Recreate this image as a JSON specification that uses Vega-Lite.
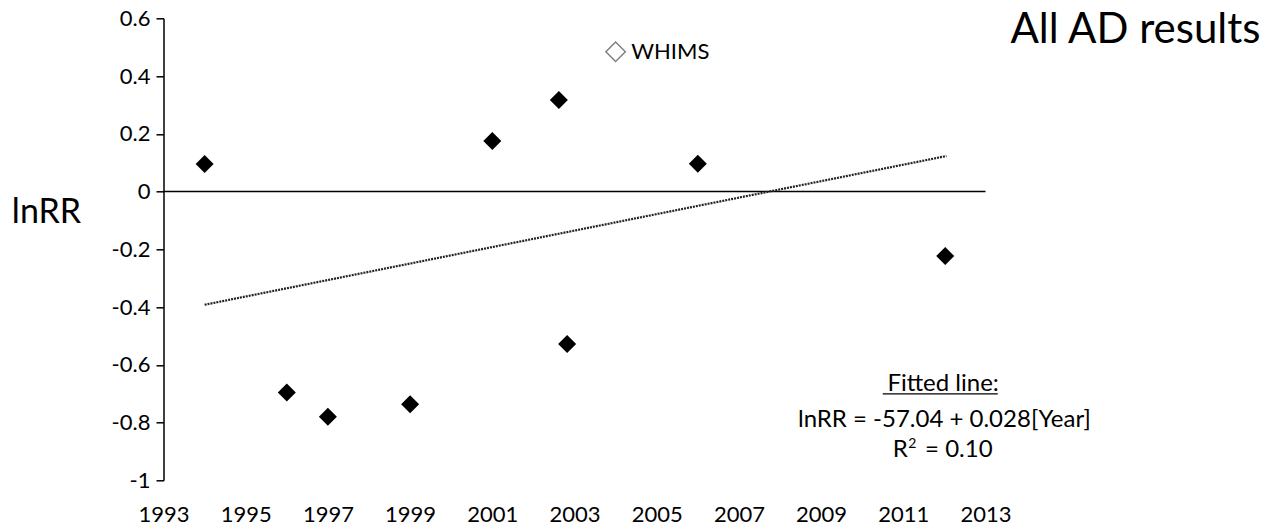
{
  "$schema": "https://vega.github.io/schema/vega-lite/v6.json",
  "width": 822,
  "height": 462,
  "autosize": "none",
  "padding": {"left": 163.5, "top": 18.3, "right": 286.5, "bottom": 50.7},
  "background": "white",
  "config": {
    "view": {"stroke": null},
    "font": "Lato",
    "text": {"color": "black", "font": "Lato"}
  },
  "datasets": {
    "studies": [
      {"study": "A", "year": 1994.0, "lnRR": 0.095},
      {"study": "B", "year": 1996.0, "lnRR": -0.696},
      {"study": "C", "year": 1997.0, "lnRR": -0.780},
      {"study": "D", "year": 1999.0, "lnRR": -0.737},
      {"study": "E", "year": 2001.0, "lnRR": 0.175},
      {"study": "F", "year": 2002.62, "lnRR": 0.317},
      {"study": "G", "year": 2002.82, "lnRR": -0.528},
      {"study": "H", "year": 2006.0, "lnRR": 0.096},
      {"study": "I", "year": 2012.02, "lnRR": -0.223},
      {"study": "WHIMS", "year": 2004.0, "lnRR": 0.484}
    ],
    "fit": [
      {"year": 1994.0, "lnRR": -0.392},
      {"year": 2012.05, "lnRR": 0.123}
    ]
  },
  "layer": [
    {
      "data": {"name": "studies"},
      "transform": [{"filter": "datum.study !== 'WHIMS'"}],
      "mark": {"type": "point", "shape": "diamond", "filled": true, "size": 324, "color": "black", "opacity": 1},
      "encoding": {
        "x": {
          "field": "year",
          "type": "quantitative",
          "scale": {"domain": [1993, 2013], "nice": false, "zero": false},
          "axis": {
            "values": [1993, 1995, 1997, 1999, 2001, 2003, 2005, 2007, 2009, 2011, 2013],
            "format": "d",
            "title": null,
            "domain": false,
            "ticks": false,
            "tickSize": 0,
            "grid": false,
            "labelFlush": false,
            "labelOverlap": false,
            "labelPadding": 24,
            "labelFont": "Lato",
            "labelFontSize": 22,
            "labelColor": "black"
          }
        },
        "y": {
          "field": "lnRR",
          "type": "quantitative",
          "scale": {"domain": [-1, 0.6], "nice": false, "zero": false},
          "axis": {
            "values": [-1, -0.8, -0.6, -0.4, -0.2, 0, 0.2, 0.4, 0.6],
            "format": ".1~f",
            "labelExpr": "replace(datum.label, '−', '-')",
            "grid": false,
            "labelFlush": false,
            "labelOverlap": false,
            "domainColor": "black",
            "domainWidth": 1.5,
            "tickColor": "black",
            "tickWidth": 1.5,
            "tickSize": 7.5,
            "labelPadding": 6,
            "labelFont": "Lato",
            "labelFontSize": 22,
            "labelColor": "black",
            "title": "lnRR",
            "titleAngle": 0,
            "titleFont": "Lato",
            "titleFontSize": 34,
            "titleFontWeight": "normal",
            "titleColor": "black",
            "titleAlign": "center",
            "titleBaseline": "alphabetic",
            "titleX": -117.5,
            "titleY": 204.4
          }
        }
      }
    },
    {
      "data": {"values": [{}]},
      "mark": {"type": "rule", "color": "black", "strokeWidth": 1.5},
      "encoding": {"y": {"datum": 0, "type": "quantitative"}}
    },
    {
      "data": {"name": "fit"},
      "mark": {"type": "line", "color": "#222222", "strokeWidth": 2.2, "strokeDash": [2, 1]},
      "encoding": {
        "x": {"field": "year", "type": "quantitative"},
        "y": {"field": "lnRR", "type": "quantitative"}
      }
    },
    {
      "data": {"name": "studies"},
      "transform": [{"filter": "datum.study === 'WHIMS'"}],
      "mark": {"type": "point", "shape": "diamond", "filled": false, "size": 380, "stroke": "#808080", "strokeWidth": 1.5, "opacity": 1},
      "encoding": {
        "x": {"field": "year", "type": "quantitative"},
        "y": {"field": "lnRR", "type": "quantitative"}
      }
    },
    {
      "data": {"values": [{"label": "WHIMS"}]},
      "mark": {"type": "text", "align": "left", "baseline": "middle", "fontSize": 22},
      "encoding": {
        "x": {"datum": 2004.38, "type": "quantitative"},
        "y": {"datum": 0.484, "type": "quantitative"},
        "text": {"field": "label"}
      }
    },
    {
      "data": {"values": [{"label": "All AD results"}]},
      "mark": {"type": "text", "align": "center", "baseline": "alphabetic", "fontSize": 42},
      "encoding": {
        "x": {"datum": 2016.65, "type": "quantitative"},
        "y": {"datum": 0.5134, "type": "quantitative"},
        "text": {"field": "label"}
      }
    },
    {
      "data": {"values": [{"label": "Fitted line:"}]},
      "mark": {"type": "text", "align": "center", "baseline": "alphabetic", "fontSize": 24},
      "encoding": {
        "x": {"datum": 2011.97, "type": "quantitative"},
        "y": {"datum": -0.69, "type": "quantitative"},
        "text": {"field": "label"}
      }
    },
    {
      "data": {"values": [{}]},
      "mark": {"type": "rule", "color": "black", "strokeWidth": 1.2},
      "encoding": {
        "x": {"datum": 2010.5, "type": "quantitative"},
        "x2": {"datum": 2013.3},
        "y": {"datum": -0.701, "type": "quantitative"}
      }
    },
    {
      "data": {"values": [{"label": "lnRR = -57.04 + 0.028[Year]"}]},
      "mark": {"type": "text", "align": "center", "baseline": "alphabetic", "fontSize": 24},
      "encoding": {
        "x": {"datum": 2012.0, "type": "quantitative"},
        "y": {"datum": -0.8145, "type": "quantitative"},
        "text": {"field": "label"}
      }
    },
    {
      "data": {"values": [{"label": "R"}]},
      "mark": {"type": "text", "align": "left", "baseline": "alphabetic", "fontSize": 24},
      "encoding": {
        "x": {"datum": 2010.745, "type": "quantitative"},
        "y": {"datum": -0.92, "type": "quantitative"},
        "text": {"field": "label"}
      }
    },
    {
      "data": {"values": [{"label": "2"}]},
      "mark": {"type": "text", "align": "center", "baseline": "alphabetic", "fontSize": 14},
      "encoding": {
        "x": {"datum": 2011.22, "type": "quantitative"},
        "y": {"datum": -0.888, "type": "quantitative"},
        "text": {"field": "label"}
      }
    },
    {
      "data": {"values": [{"label": "= 0.10"}]},
      "mark": {"type": "text", "align": "left", "baseline": "alphabetic", "fontSize": 24},
      "encoding": {
        "x": {"datum": 2011.53, "type": "quantitative"},
        "y": {"datum": -0.92, "type": "quantitative"},
        "text": {"field": "label"}
      }
    }
  ]
}
